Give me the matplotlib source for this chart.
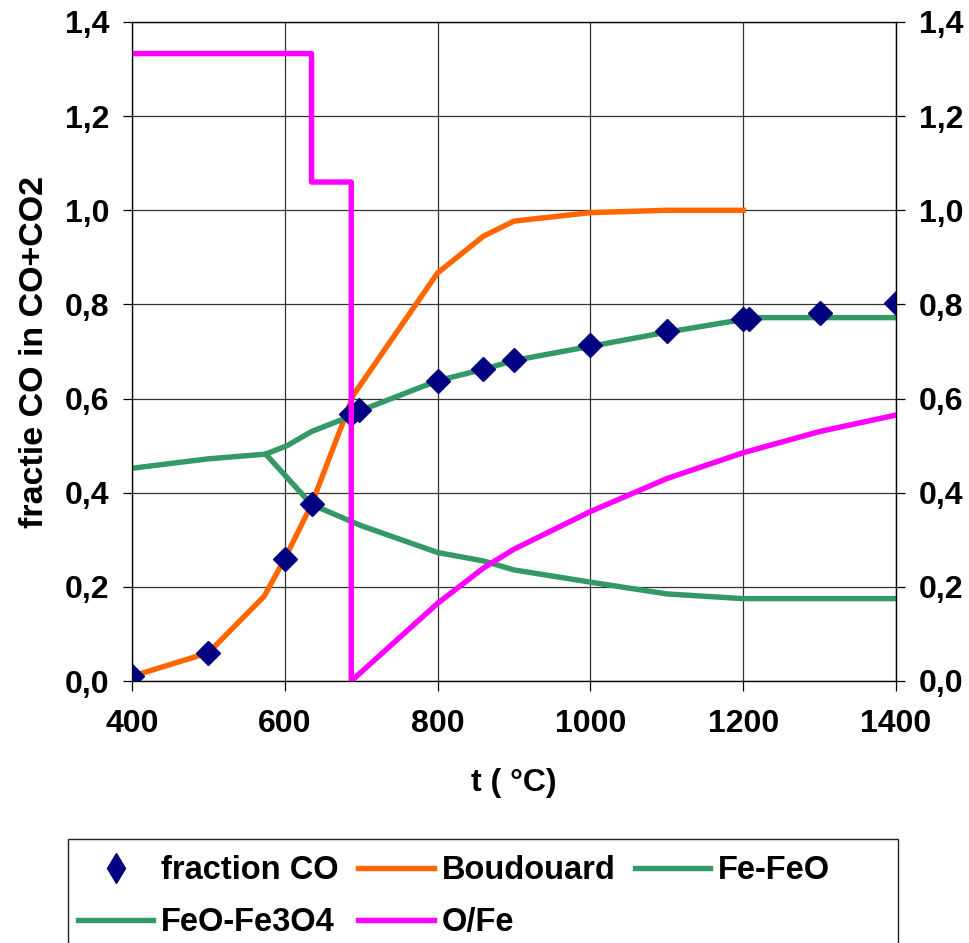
import matplotlib
matplotlib.use("Agg")
import matplotlib.pyplot as plt
from matplotlib.lines import Line2D
from matplotlib.patches import Rectangle

plt.rcParams['font.family'] = ['Liberation Sans', 'DejaVu Sans']
plt.rcParams['font.weight'] = 'bold'
plt.rcParams['axes.labelweight'] = 'bold'
plt.rcParams['font.size'] = 23

# measured fraction CO (diamonds)
t_co = [400, 500, 600, 635, 686, 697, 800, 860, 900, 1000, 1100, 1200, 1208, 1300, 1400]
frac_co = [0.01, 0.06, 0.26, 0.375, 0.567, 0.575, 0.638, 0.663, 0.683, 0.713, 0.743,
           0.768, 0.768, 0.781, 0.802]

# Boudouard equilibrium
t_boud = [400, 500, 573, 600, 635, 690, 800, 860, 900, 1000, 1100, 1200]
boud = [0.01, 0.06, 0.18, 0.26, 0.375, 0.608, 0.867, 0.945, 0.977, 0.995, 1.0, 1.0]

# Fe-FeO equilibrium (Fe-Fe3O4 below 570 C)
t_fe_feo = [400, 500, 575, 603, 635, 690, 700, 800, 860, 900, 1000, 1100, 1200, 1210, 1300, 1400]
fe_feo = [0.452, 0.472, 0.482, 0.50, 0.53, 0.565, 0.575, 0.638, 0.662, 0.681, 0.711,
          0.741, 0.768, 0.772, 0.772, 0.772]

# FeO-Fe3O4 equilibrium
t_feo_fe3o4 = [575, 635, 700, 800, 860, 900, 1000, 1100, 1200, 1300, 1400]
feo_fe3o4 = [0.482, 0.375, 0.33, 0.273, 0.255, 0.236, 0.21, 0.185, 0.175, 0.175, 0.175]

# O/Fe ratio of the solid
t_ofe = [400, 635, 635, 687, 687, 800, 860, 900, 1000, 1100, 1200, 1300, 1400]
ofe = [1.333, 1.333, 1.06, 1.06, 0.0, 0.165, 0.24, 0.28, 0.36, 0.43, 0.485, 0.53, 0.565]

x_ticks = [400, 600, 800, 1000, 1200, 1400]
y_ticks = [0.0, 0.2, 0.4, 0.6, 0.8, 1.0, 1.2, 1.4]
y_tick_labels = ['0,0', '0,2', '0,4', '0,6', '0,8', '1,0', '1,2', '1,4']

navy = '#000080'
orange = '#FF6600'
green = '#339966'
magenta = '#FF00FF'
lw = 3.9

fig = plt.figure(figsize=(9.69, 9.43), dpi=100)
ax = fig.add_axes([132 / 969, 1 - 681 / 943, 764 / 969, 659 / 943])

ax.plot(t_boud, boud, color=orange, lw=lw, zorder=2)
ax.plot(t_fe_feo, fe_feo, color=green, lw=lw, zorder=2)
ax.plot(t_feo_fe3o4, feo_fe3o4, color=green, lw=lw, zorder=2)
ax.plot(t_co, frac_co, ls='none', marker='D', ms=12.5, color=navy, zorder=3)
ax.plot(t_ofe, ofe, color=magenta, lw=lw, zorder=4)

ax.set_xlim(400, 1400)
ax.set_ylim(0, 1.4)
ax.set_xticks(x_ticks)
ax.set_yticks(y_ticks)
ax.set_yticklabels(y_tick_labels)
ax.grid(True, color='#333333', lw=0.9, zorder=0)
ax.set_axisbelow(True)
for s in ax.spines.values():
    s.set_color('black')
    s.set_linewidth(0.9)
ax.tick_params(axis='x', direction='out', length=7, width=0.9, pad=13)
ax.tick_params(axis='y', direction='out', length=6.5, width=0.9, pad=10)

ax.set_xlabel('t ( °C)', va='center')
ax.xaxis.set_label_coords(0.5, -0.155)
ax.set_ylabel('fractie CO in CO+CO2', va='center', fontsize=24.5)
ax.yaxis.set_label_coords(-0.128, 0.5)

ax2 = ax.twinx()
ax2.set_ylim(0, 1.4)
ax2.set_yticks(y_ticks)
ax2.set_yticklabels(y_tick_labels)
ax2.tick_params(axis='y', direction='out', length=6.5, width=0.9, pad=10)

# legend box at the bottom, cut off by the figure edge
fig.patches.append(Rectangle((68 / 969, -0.05), 830 / 969, 0.05 + (943 - 839) / 943,
                             transform=fig.transFigure, fill=False,
                             edgecolor='#202020', lw=1.0))

h_co = Line2D([], [], ls='none', marker='d', ms=15, color=navy)
h_boud = Line2D([], [], color=orange, lw=lw)
h_fe = Line2D([], [], color=green, lw=lw)
h_fe3 = Line2D([], [], color=green, lw=lw)
h_ofe = Line2D([], [], color=magenta, lw=lw)
fig.legend([h_co, h_fe3, h_boud, h_ofe, h_fe],
           ['fraction CO', 'FeO-Fe3O4', 'Boudouard', 'O/Fe', 'Fe-FeO'],
           ncol=3, loc='upper left', bbox_to_anchor=(78 / 969, 1 - 855 / 943),
           frameon=False, borderpad=0, borderaxespad=0, handlelength=2.3,
           handletextpad=0.25, columnspacing=0.6, labelspacing=0.65, fontsize=23.5)

fig.savefig('out.png', dpi=100)
